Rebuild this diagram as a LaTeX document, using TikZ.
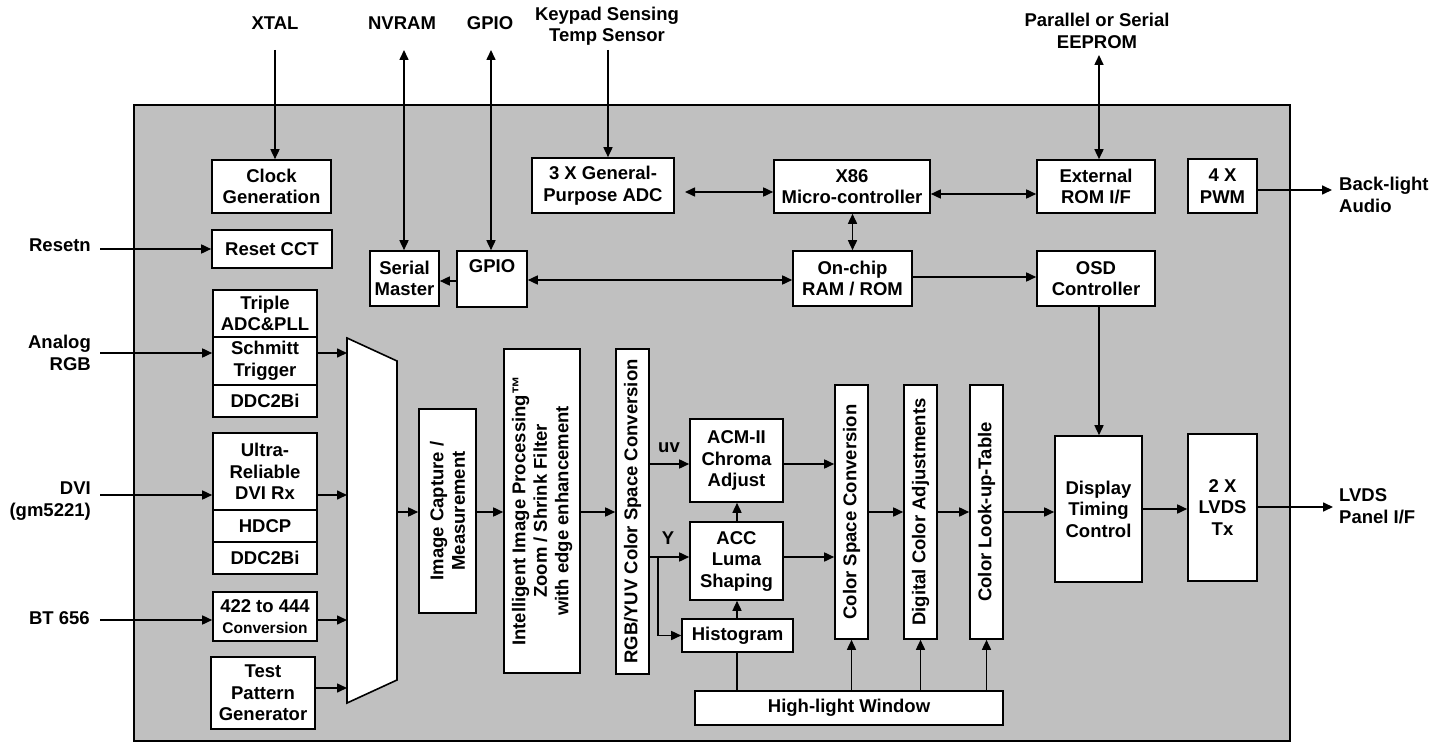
\documentclass[tikz,border=0pt]{standalone}
\usepackage{fontspec}
\setmainfont{Liberation Sans}
\usetikzlibrary{arrows.meta,calc}
\newcommand{\lblfont}{\fontsize{18.5}{21.5}\selectfont\bfseries}
\newcommand{\smlfont}{\fontsize{15.5}{18}\selectfont\bfseries}
\begin{document}
\begin{tikzpicture}[x=1pt,y=-1pt,
  blk/.style={draw, fill=white, line width=1.6pt, inner sep=0pt, align=center, font=\lblfont},
  outlbl/.style={inner sep=0pt, align=center, font=\lblfont},
  conn/.style={line width=1.6pt},
  arr/.style={conn, -{Triangle[length=10pt,width=9pt]}},
  darr/.style={conn, {Triangle[length=10pt,width=9pt]}-{Triangle[length=10pt,width=9pt]}},
]
\useasboundingbox (0,0) rectangle (1447,743);
% chip background
\draw[line width=1.6pt, fill={rgb,255:red,192;green,192;blue,192}] (134,105) rectangle (1290,741);

% external labels
\node[outlbl] (lxtal) at (275,23) {XTAL};
\node[outlbl] (lnv) at (402,23) {NVRAM};
\node[outlbl] (lgp) at (490,23) {GPIO};
\node[outlbl] (lkey) at (607,26) {Keypad Sensing\\Temp Sensor};
\node[outlbl] (lee) at (1097,31) {Parallel or Serial\\EEPROM};
\node[outlbl, anchor=west, align=left] (lbl) at (1339,195) {Back-light\\Audio};
\node[outlbl, anchor=west, align=left] (llv) at (1339,506) {LVDS\\Panel I/F};
\node[outlbl, anchor=east] (lrst) at (91,245) {Resetn};
\node[outlbl, anchor=east, align=right] (largb) at (91,353) {Analog\\RGB};
\node[outlbl, anchor=east, align=right] (ldvi) at (91,501) {DVI\\(gm5221)};
\node[outlbl, anchor=east] (lbt) at (90,618) {BT 656};
\node[outlbl] (luv) at (669,448) {uv};
\node[outlbl] (lY) at (668,538) {Y};

% top blocks
\node[blk, minimum width=119pt, minimum height=53pt] (clk) at (271.5,186.5) {Clock\\Generation};
\node[blk, minimum width=120pt, minimum height=38pt] (rst) at (272,249) {Reset CCT};
\node[blk, minimum width=69pt, minimum height=55pt] (sm) at (404.5,278.5) {Serial\\Master};
\node[blk, minimum width=70pt, minimum height=56pt] (gpio) at (492,279) {};
\node[outlbl] (gpioT) at (492,266) {GPIO};
\node[blk, minimum width=142pt, minimum height=55pt] (adc) at (603,185.5) {3 X General-\\Purpose ADC};
\node[blk, minimum width=156pt, minimum height=53pt] (x86) at (852,186.5) {X86\\Micro-controller};
\node[blk, minimum width=119pt, minimum height=55pt] (ram) at (852.5,278.5) {On-chip\\RAM / ROM};
\node[blk, minimum width=118pt, minimum height=53pt] (ext) at (1096,186.5) {External\\ROM I/F};
\node[blk, minimum width=69pt, minimum height=54pt] (pwm) at (1222.5,186) {4 X\\PWM};
\node[blk, minimum width=118pt, minimum height=55pt] (osd) at (1096,278.5) {OSD\\Controller};

% input blocks
\node[blk, minimum width=104pt, minimum height=47pt] (adcpll) at (265,313.5) {Triple\\ADC\&PLL};
\node[blk, minimum width=104pt, minimum height=48pt] (sch) at (265,361) {Schmitt\\Trigger};
\node[blk, minimum width=104pt, minimum height=32pt] (ddc1) at (265,401) {DDC2Bi};
\node[blk, minimum width=104pt, minimum height=77pt] (dvirx) at (265,471.5) {Ultra-\\Reliable\\DVI Rx};
\node[blk, minimum width=104pt, minimum height=32pt] (hdcp) at (265,526) {HDCP};
\node[blk, minimum width=104pt, minimum height=32pt] (ddc2) at (265,558) {DDC2Bi};
\node[blk, minimum width=104pt, minimum height=49pt] (conv) at (265,616.5) {422 to 444\\{\smlfont Conversion}};
\node[blk, minimum width=104pt, minimum height=72pt] (tpg) at (263,693) {Test\\Pattern\\Generator};

% mux
\coordinate (m1) at (347,338);
\coordinate (m2) at (397,361);
\coordinate (m3) at (397,680);
\coordinate (m4) at (347,703);
\draw[line width=1.6pt, fill=white] (m1) -- (m2) -- (m3) -- (m4) -- cycle;

% processing pipeline
\node[blk, minimum width=57pt, minimum height=204pt] (icm) at (447.5,511) {};
\node[outlbl, rotate=90] (icmT) at (icm) {Image Capture /\\Measurement};
\node[blk, minimum width=76pt, minimum height=324pt] (iip) at (542,511) {};
\node[outlbl, rotate=90] (iipT) at (iip) {Intelligent Image Processing™\\Zoom / Shrink Filter\\with edge enhancement};
\node[blk, minimum width=33pt, minimum height=325pt] (rgb) at (632.5,511.5) {};
\node[outlbl, rotate=90] (rgbT) at (rgb) {RGB/YUV Color Space Conversion};
\node[blk, minimum width=93pt, minimum height=83pt] (acm) at (736.5,460.5) {ACM-II\\Chroma\\Adjust};
\node[blk, minimum width=93pt, minimum height=78pt] (acc) at (736.5,561) {ACC\\Luma\\Shaping};
\node[blk, minimum width=111pt, minimum height=33pt] (hist) at (737.5,635.5) {Histogram};
\node[blk, minimum width=33pt, minimum height=254pt] (csc) at (851.5,512) {};
\node[outlbl, rotate=90] (cscT) at (csc) {Color Space Conversion};
\node[blk, minimum width=33pt, minimum height=254pt] (dca) at (920.5,512) {};
\node[outlbl, rotate=90] (dcaT) at (dca) {Digital Color Adjustments};
\node[blk, minimum width=33pt, minimum height=254pt] (lut) at (986.5,512) {};
\node[outlbl, rotate=90] (lutT) at (lut) {Color Look-up-Table};
\node[blk, minimum width=308pt, minimum height=34pt] (hlw) at (849,708) {High-light Window};
\node[blk, minimum width=87pt, minimum height=146pt] (dtc) at (1098.5,509) {Display\\Timing\\Control};
\node[blk, minimum width=69pt, minimum height=147pt] (lvds) at (1222.5,507.5) {2 X\\LVDS\\Tx};

% helper coordinates
\coordinate (pXtal) at (275,50);
\coordinate (pNv) at (404,50);
\coordinate (pGp) at (491,50);
\coordinate (pKey) at (608,50);
\coordinate (pEe) at (1099,55);
\coordinate (pRst) at (100,249);
\coordinate (yGS) at (0,281);
\coordinate (pAdcX) at (685,192);
\coordinate (yXE) at (0,194);
\coordinate (yGR) at (0,280);
\coordinate (yRO) at (0,277);
\coordinate (yPB) at (0,190);
\coordinate (pBL) at (1332,190);
\coordinate (xOD) at (1099,0);
\coordinate (pARGB) at (100,353);
\coordinate (pDVI) at (100,495);
\coordinate (pBT) at (100,620);
\coordinate (yT) at (0,688);
\coordinate (yMain) at (0,512);
\coordinate (yUV) at (0,464);
\coordinate (yY) at (0,557);
\coordinate (pBr) at (658,557);
\coordinate (xAC) at (737,0);
\coordinate (pOut) at (1333,507);

% connectors: top
\draw[arr] (pXtal) -- (pXtal |- clk.north);
\draw[darr] (pNv) -- (pNv |- sm.north);
\draw[darr] (pGp) -- (pGp |- gpio.north);
\draw[arr] (pKey) -- (pKey |- adc.north);
\draw[darr] (pEe) -- (pEe |- ext.north);
\draw[arr] (pRst) -- (pRst -| rst.west);
\draw[arr] (gpio.west |- yGS) -- (sm.east |- yGS);
\draw[darr] (pAdcX) -- (pAdcX -| x86.west);
\draw[darr] (x86.east |- yXE) -- (ext.west |- yXE);
\draw[darr] (x86.south -| ram.north) -- (ram.north);
\draw[darr] (gpio.east |- yGR) -- (ram.west |- yGR);
\draw[arr] (ram.east |- yRO) -- (osd.west |- yRO);
\draw[arr] (pwm.east |- yPB) -- (pBL);
\draw[arr] (xOD |- osd.south) -- (xOD |- dtc.north);

% connectors: inputs
\draw[arr] (pARGB) -- (pARGB -| sch.west);
\draw[arr] (sch.east |- pARGB) -- (m1 |- pARGB);
\draw[arr] (pDVI) -- (pDVI -| dvirx.west);
\draw[arr] (dvirx.east |- pDVI) -- (m1 |- pDVI);
\draw[arr] (pBT) -- (pBT -| conv.west);
\draw[arr] (conv.east |- pBT) -- (m1 |- pBT);
\draw[arr] (tpg.east |- yT) -- (m1 |- yT);

% connectors: pipeline
\draw[arr] (m2 |- yMain) -- (icm.west |- yMain);
\draw[arr] (icm.east |- yMain) -- (iip.west |- yMain);
\draw[arr] (iip.east |- yMain) -- (rgb.west |- yMain);
\draw[arr] (rgb.east |- yUV) -- (acm.west |- yUV);
\draw[arr] (acm.east |- yUV) -- (csc.west |- yUV);
\draw[arr] (rgb.east |- yY) -- (acc.west |- yY);
\draw[arr] (acc.east |- yY) -- (csc.west |- yY);
\draw[arr] (pBr) |- (hist.west);
\draw[arr] (xAC |- acc.north) -- (xAC |- acm.south);
\draw[arr] (xAC |- hist.north) -- (xAC |- acc.south);
\draw[conn] (xAC |- hist.south) -- (xAC |- hlw.north);
\draw[arr] (hlw.north -| csc.south) -- (csc.south);
\draw[arr] (hlw.north -| dca.south) -- (dca.south);
\draw[arr] (hlw.north -| lut.south) -- (lut.south);
\draw[arr] (csc.east |- yMain) -- (dca.west |- yMain);
\draw[arr] (dca.east |- yMain) -- (lut.west |- yMain);
\draw[arr] (lut.east |- yMain) -- (dtc.west |- yMain);
\draw[arr] (dtc.east) -- (lvds.west |- dtc.east);
\draw[arr] (lvds.east |- pOut) -- (pOut);
\end{tikzpicture}
\end{document}
